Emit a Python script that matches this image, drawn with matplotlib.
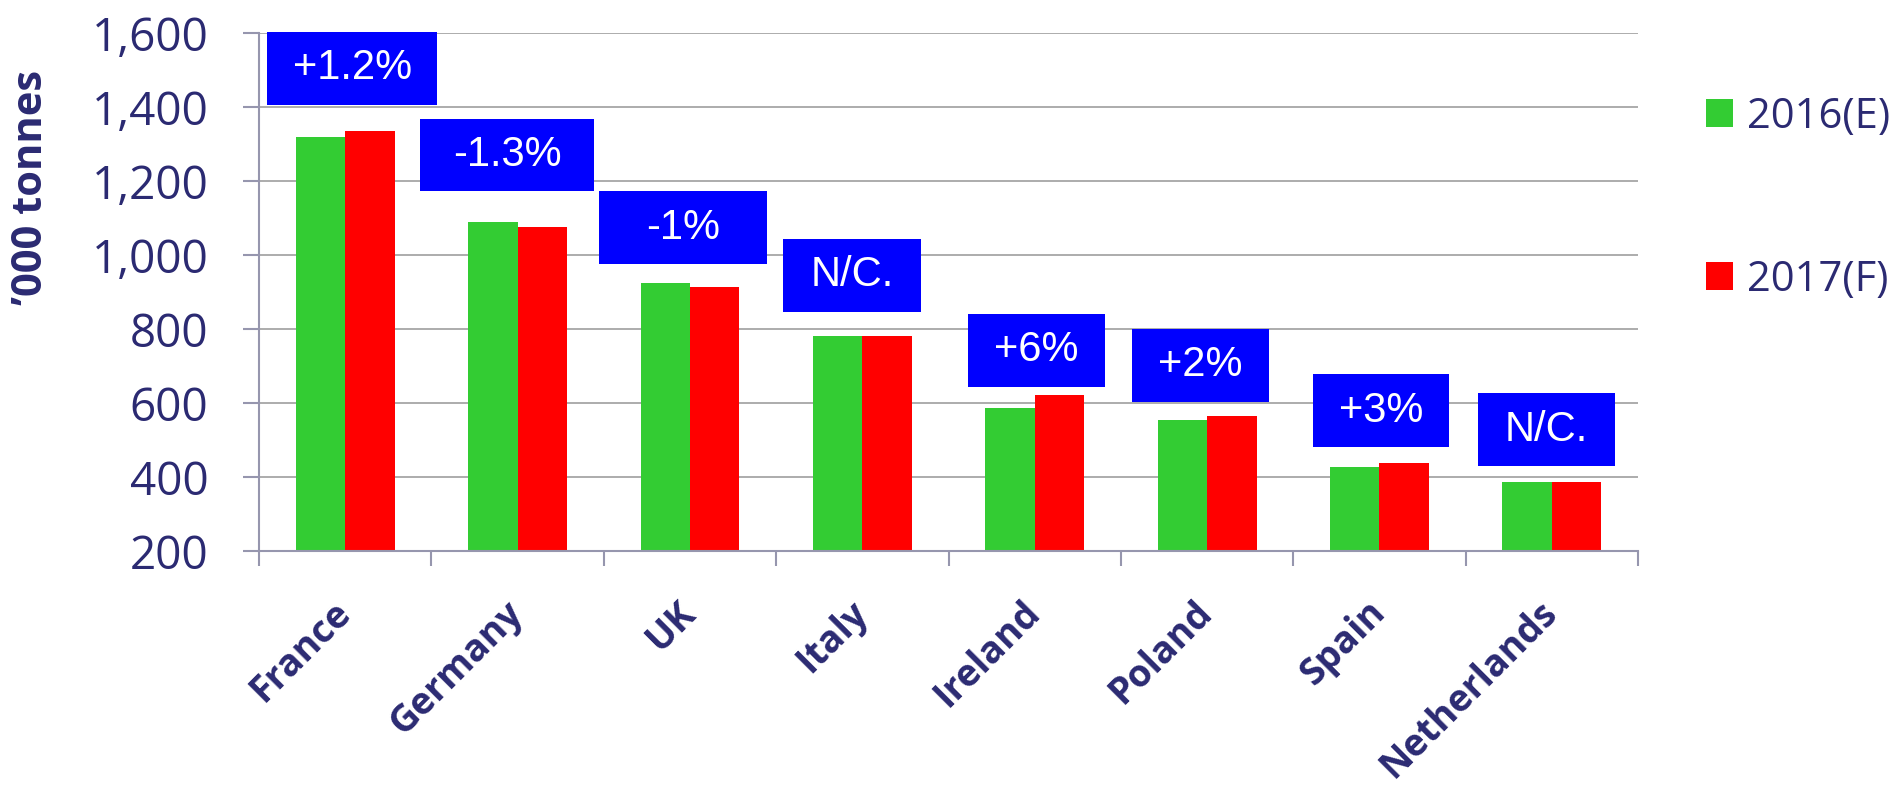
import matplotlib
matplotlib.use("Agg")
import matplotlib.pyplot as plt
import matplotlib.transforms as mtransforms
from matplotlib.patches import Rectangle
import numpy as np

# data
countries = ["France", "Germany", "UK", "Italy", "Ireland", "Poland", "Spain", "Netherlands"]
vals_2016 = [1320, 1091, 925, 783, 588, 555, 427, 387]
vals_2017 = [1336, 1077, 915, 783, 622, 566, 440, 387]
changes = ["+1.2%", "-1.3%", "-1%", "N/C.", "+6%", "+2%", "+3%", "N/C."]
series_names = ["2016(E)", "2017(F)"]

# where the blue change boxes sit (data units)
box_y = [1505, 1271, 1075, 946, 743, 703, 580, 529]
box_dx = [0.04, -0.06, -0.04, -0.06, 0.01, -0.04, 0.01, -0.03]
box_w = [0.99, 1.01, 0.97, 0.795, 0.795, 0.795, 0.79, 0.795]
box_h = 197

navy = "#2B2A72"
axis_col = "#9696AE"
green = "#33CC33"
red = "#FF0000"
blue = "#0000FF"


def main():
    fig = plt.figure(figsize=(18.98, 7.86), dpi=100)
    ax = fig.add_axes([0.1365, 0.2985, 0.7265, 0.6592])

    x = np.arange(len(countries))
    w = 0.287
    b1 = ax.bar(x - w / 2, np.array(vals_2016) - 200, w, bottom=200, color=green, label=series_names[0], zorder=2)
    b2 = ax.bar(x + w / 2, np.array(vals_2017) - 200, w, bottom=200, color=red, label=series_names[1], zorder=2)

    # change boxes
    for i, txt in enumerate(changes):
        cx = x[i] + box_dx[i]
        ax.add_patch(Rectangle((cx - box_w[i] / 2, box_y[i] - box_h / 2), box_w[i], box_h,
                               facecolor=blue, edgecolor="none", zorder=3, clip_on=False))
        ax.text(cx, box_y[i], txt, color="white", fontsize=30, family="Liberation Sans",
                ha="center", va="center", zorder=4, clip_on=False)

    ax.set_xlim(-0.5, len(countries) - 0.5)
    ax.set_ylim(200, 1600)
    ax.set_yticks(np.arange(200, 1601, 200))
    ax.set_yticklabels([f"{v:,}" for v in range(200, 1601, 200)], family="Open Sans",
                       fontsize=33, color=navy)
    ax.yaxis.grid(True, color="#A6A6A6", linewidth=1.3)
    ax.set_axisbelow(True)

    ax.set_xticks(x)
    ax.set_xticks(np.arange(-0.5, len(countries)), minor=True)
    ax.set_xticklabels(countries, family="Open Sans", fontweight="bold", fontsize=27, color=navy)
    shift = mtransforms.ScaledTranslation(0.08, 0, fig.dpi_scale_trans)
    for lab in ax.get_xticklabels():
        lab.set_rotation(45)
        lab.set_ha("right")
        lab.set_va("center")
        lab.set_rotation_mode("anchor")
        lab.set_transform(lab.get_transform() + shift)

    ax.tick_params(axis="x", which="major", length=0, pad=40)
    ax.tick_params(axis="x", which="minor", length=10.8, width=1.5, color=axis_col, direction="out")
    ax.tick_params(axis="y", length=11.5, width=1.5, color=axis_col, direction="out", pad=25)

    for s in ["top", "right"]:
        ax.spines[s].set_visible(False)
    for s in ["left", "bottom"]:
        ax.spines[s].set_color(axis_col)
        ax.spines[s].set_linewidth(1.5)

    fig.text(0.0165, 0.761, "\u2019000 tonnes", rotation=90, ha="center", va="center",
             family="Open Sans", fontweight="bold", fontsize=30, color=navy)

    fig.legend(handles=[b1, b2], labels=series_names, loc="upper left",
               bbox_to_anchor=(0.899, 0.878), frameon=False, borderpad=0, borderaxespad=0,
               handlelength=0.65, handleheight=0.65, handletextpad=0.33, labelspacing=2.9,
               prop={"family": "Open Sans", "size": 30}, labelcolor=navy)

    fig.savefig("out.png", dpi=100)


if __name__ == "__main__":
    main()
